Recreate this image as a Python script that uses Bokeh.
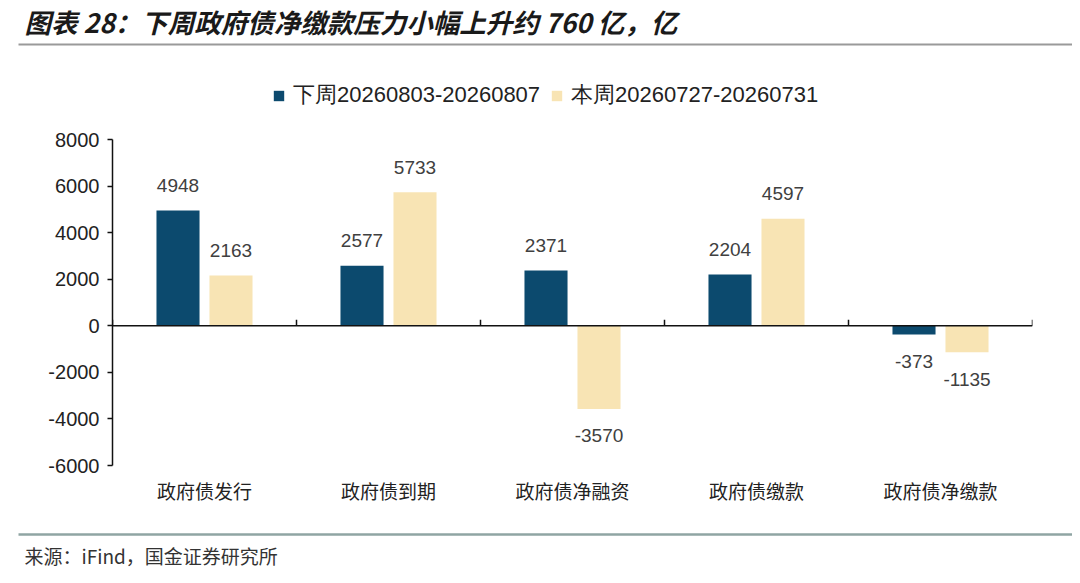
from bokeh.plotting import figure
from bokeh.models import (ColumnDataSource, FactorRange, Range1d, Legend, LegendItem)
from bokeh.transform import dodge
from bokeh.layouts import column
from bokeh.core.properties import value
from bokeh.embed import file_html
from bokeh.resources import INLINE

# ---------------- data ----------------
title_text = "图表 28：下周政府债净缴款压力小幅上升约 760 亿，亿"
source_text = "来源：iFind，国金证券研究所"
categories = ["政府债发行", "政府债到期", "政府债净融资", "政府债缴款", "政府债净缴款"]
series_names = ["下周20260803-20260807", "本周20260727-20260731"]
next_week = [4948, 2577, 2371, 2204, -373]
this_week = [2163, 5733, -3570, 4597, -1135]
y_ticks = [-6000, -4000, -2000, 0, 2000, 4000, 6000, 8000]

DARK = "#0C4A6E"
LIGHT = "#F8E4B4"
W = 1072
CJK = "Noto Sans CJK SC"
LAT = "Liberation Sans"

# ---------------- header ----------------
HEAD_H = 50
head = figure(width=W, height=HEAD_H, x_range=Range1d(0, W), y_range=Range1d(HEAD_H, 0),
              x_axis_type=None, y_axis_type=None, toolbar_location=None,
              output_backend="svg", min_border=0, outline_line_color=None)
head.frame_align = False
head.grid.visible = False
head.text(x=[24], y=[21], text=[title_text], text_font=value(CJK), text_font_size="26.5px",
          text_font_style="bold italic", text_color="#1a1a1a", text_baseline="middle",
          text_align="left")
head.segment(x0=[18], y0=[44], x1=[1072], y1=[44], line_color="#9a9a9a", line_width=2)

# ---------------- chart ----------------
CH_H = 475
frame_top_page = 50       # page y of chart figure top
y_min, y_max = min(y_ticks), max(y_ticks)
px_per_unit = (465 - 139) / (y_max - y_min)
y_top = y_max + (139 - frame_top_page) / px_per_unit

src = ColumnDataSource(dict(cat=categories, a=next_week, b=this_week))

p = figure(width=W, height=CH_H, x_range=FactorRange(factors=categories, range_padding=0),
           y_range=Range1d(y_min, y_top), toolbar_location=None, output_backend="svg",
           min_border_left=112, min_border_right=W - 1032, min_border_top=0,
           min_border_bottom=CH_H - (465 - frame_top_page),
           outline_line_color=None)
p.frame_align = False
p.grid.visible = False

bw = 0.234
off = 0.144
r1 = p.vbar(x=dodge("cat", -off, range=p.x_range), top="a", width=bw, source=src,
            fill_color=DARK, line_color=None)
r2 = p.vbar(x=dodge("cat", off, range=p.x_range), top="b", width=bw, source=src,
            fill_color=LIGHT, line_color=None)

# value labels
def split(vals, positive):
    keep = [(c, v) for c, v in zip(categories, vals) if (v >= 0) == positive]
    return ColumnDataSource(dict(cat=[c for c, _ in keep], v=[v for _, v in keep],
                                 t=[str(v) for _, v in keep]))

for s, o, yo in [(split(next_week, True), -off, -25), (split(next_week, False), -off, 27),
                 (split(this_week, True), off, -25), (split(this_week, False), off, 27)]:
    p.text(x=dodge("cat", o, range=p.x_range), y="v", text="t", source=s,
           text_font=value(LAT), text_font_size="19px", text_color="#404040",
           text_align="center", text_baseline="middle", y_offset=yo)

# zero line with category boundary ticks
n = len(categories)
p.segment(x0=[0], y0=[0], x1=[n], y1=[0], line_color="#111111", line_width=1.5)
tick_units = 6 / px_per_unit
p.segment(x0=list(range(n + 1)), y0=[0] * (n + 1), x1=list(range(n + 1)),
          y1=[tick_units] * (n + 1), line_color="#111111", line_width=1.5)

# y axis
ya = p.yaxis[0]
ya.ticker = y_ticks
ya.bounds = (y_min, y_max)
ya.major_label_overrides = {v: str(v) for v in y_ticks}
ya.axis_line_color = "#111111"
ya.axis_line_width = 1.5
ya.major_tick_line_color = "#111111"
ya.major_tick_line_width = 1.5
ya.major_tick_out = 5
ya.major_tick_in = 0
ya.minor_tick_line_color = None
ya.major_label_text_font = LAT
ya.major_label_text_font_size = "20px"
ya.major_label_text_color = "#222222"
ya.major_label_standoff = 8

# x axis (labels only)
xa = p.xaxis[0]
xa.axis_line_color = None
xa.major_tick_line_color = None
xa.minor_tick_line_color = None
xa.major_label_text_font = CJK
xa.major_label_text_font_size = "19px"
xa.major_label_text_color = "#222222"
xa.major_label_standoff = 5

legend = Legend(items=[LegendItem(label=series_names[0], renderers=[r1]),
                       LegendItem(label=series_names[1], renderers=[r2])],
                orientation="horizontal", location=(160, 355),
                glyph_width=13, glyph_height=13, label_standoff=8, spacing=10,
                padding=4, label_height=22, border_line_color=None,
                background_fill_alpha=0, label_text_font=LAT,
                label_text_font_size="22px", label_text_color="#222222")
p.add_layout(legend, "center")

# ---------------- footer ----------------
FOOT_H = 55
foot = figure(width=W, height=FOOT_H, x_range=Range1d(0, W), y_range=Range1d(FOOT_H, 0),
              x_axis_type=None, y_axis_type=None, toolbar_location=None,
              output_backend="svg", min_border=0, outline_line_color=None)
foot.frame_align = False
foot.grid.visible = False
foot.segment(x0=[18], y0=[9], x1=[1072], y1=[9], line_color="#8FA5A3", line_width=2.5)
foot.text(x=[24], y=[30], text=[source_text], text_font=value(CJK), text_font_size="19px",
          text_color="#333333", text_baseline="middle", text_align="left")

layout = column(head, p, foot, spacing=0)
open("out.html", "w").write(file_html(layout, INLINE))
